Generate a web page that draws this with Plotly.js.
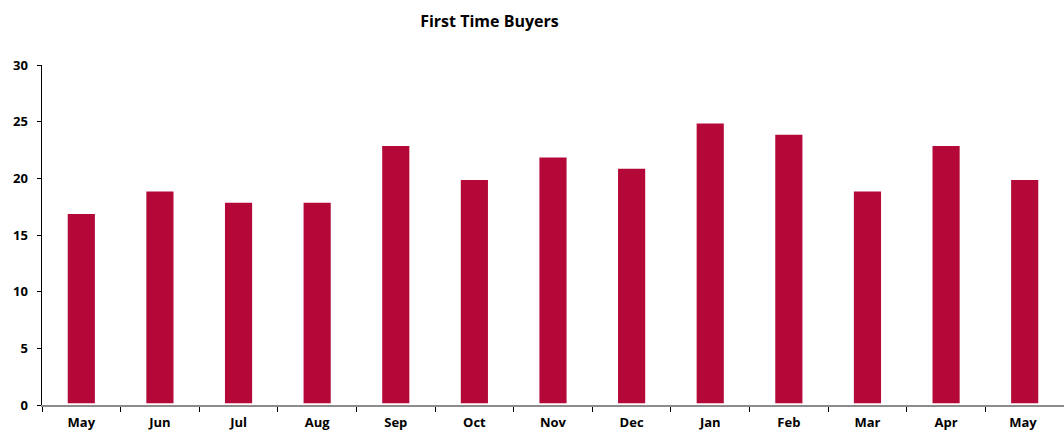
<!DOCTYPE html>
<html>
<head>
<meta charset="utf-8">
<script src="https://cdn.plot.ly/plotly-3.0.1.min.js"></script>
<style>html,body{margin:0;padding:0;background:#fff;}#chart{width:1064px;height:432px;}</style>
</head>
<body>
<div id="chart"></div>
<script>
const months = ["May","Jun","Jul","Aug","Sep","Oct","Nov","Dec","Jan","Feb","Mar","Apr","May "];
const buyers = [17, 19, 18, 18, 23, 20, 22, 21, 25, 24, 19, 23, 20];
const yTicks = [0, 5, 10, 15, 20, 25, 30];

const trace = {
  type: 'bar',
  x: months,
  y: buyers,
  marker: { color: '#B30838', line: { color: '#ffffff', width: 3.5 } },
  hoverinfo: 'x+y'
};

const layout = {
  width: 1064,
  height: 432,
  margin: { l: 42, r: 0, t: 65, b: 27 },
  paper_bgcolor: '#ffffff',
  plot_bgcolor: '#ffffff',
  showlegend: false,
  bargap: 0.61,
  font: { family: 'Liberation Sans, Arial, sans-serif', color: '#000000' },
  title: {
    text: '<b>First Time Buyers</b>',
    x: 0.46, xanchor: 'center', xref: 'container',
    y: 0.95, yanchor: 'middle',
    font: { size: 16, family: 'Open Sans, Liberation Sans, sans-serif', color: '#000' }
  },
  xaxis: {
    type: 'category',
    range: [-0.5, 12.5],
    showline: true,
    linecolor: '#8c8c8c',
    linewidth: 1.5,
    ticks: 'outside',
    tickson: 'boundaries',
    ticklen: 5,
    tickcolor: '#000',
    tickwidth: 1,
    showgrid: false,
    zeroline: false,
    ticklabelstandoff: 5,
    tickfont: { size: 13, family: 'Open Sans, Liberation Sans, sans-serif', weight: 'bold', color: '#000' },
    fixedrange: true
  },
  yaxis: {
    range: [0, 30],
    tickvals: yTicks,
    ticktext: yTicks.map(String),
    showline: true,
    linecolor: '#000',
    linewidth: 1.5,
    ticks: 'outside',
    ticklen: 4,
    tickcolor: '#000',
    showgrid: false,
    zeroline: false,
    ticklabelstandoff: 6,
    tickfont: { size: 13, family: 'Open Sans, Liberation Sans, sans-serif', weight: 'bold', color: '#000' },
    fixedrange: true
  }
};

Plotly.newPlot('chart', [trace], layout, { displayModeBar: false, staticPlot: true });
</script>
</body>
</html>
